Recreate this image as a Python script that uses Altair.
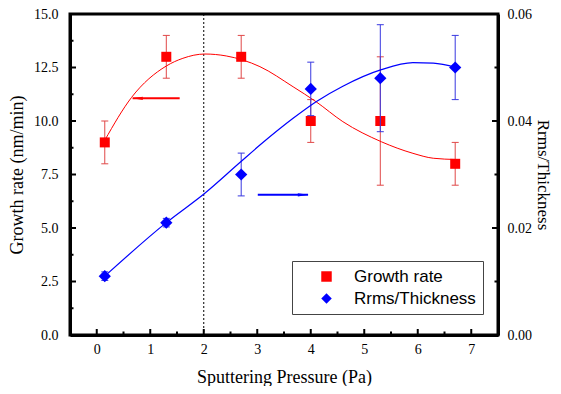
import altair as alt
import pandas as pd

# ---------------- data ----------------
series_names = ["Growth rate", "Rrms/Thickness"]

pressure = [0.15, 1.3, 2.7, 4.0, 5.3, 6.7]
growth = [9.0, 13.0, 13.0, 10.0, 10.0, 8.0]
growth_err = [1.0, 1.0, 1.0, 1.0, 3.0, 1.0]
rrms = [0.011, 0.021, 0.030, 0.046, 0.048, 0.050]
rrms_err = [0.0008, 0.0008, 0.004, 0.005, 0.010, 0.006]

fit_growth_x = [0.15, 0.65, 1.30, 1.61, 2.02, 2.42, 3.05, 3.67, 4.10, 4.60, 5.32, 5.91, 6.29, 6.72]
fit_growth_y = [9.1, 11.1, 12.57, 12.93, 13.13, 13.04, 12.54, 11.6, 10.9, 9.97, 9.03, 8.49, 8.26, 8.2]

fit_rrms_x = [0.15, 1.30, 2.02, 2.67, 3.05, 3.67, 4.10, 4.60, 5.32, 5.91, 6.29, 6.72]
fit_rrms_y = [0.0110, 0.0210, 0.0265, 0.0322, 0.0355, 0.0405, 0.0436, 0.0465, 0.0496, 0.0509, 0.0508, 0.0500]

marker_x = [2.0]

arrow_growth = {"x0": [1.55], "x1": [0.67], "y": [11.06]}
arrow_rrms = {"x0": [3.01], "x1": [3.95], "y": [0.0262]}

x_major = [0, 1, 2, 3, 4, 5, 6, 7]
x_minor = [0.5, 1.5, 2.5, 3.5, 4.5, 5.5, 6.5]
left_major = [0, 2.5, 5, 7.5, 10, 12.5, 15]
left_minor = [1.25, 3.75, 6.25, 8.75, 11.25, 13.75]
right_major = [0, 0.02, 0.04, 0.06]
right_minor = [0.01, 0.03, 0.05]

RED = "#FF0000"
BLUE = "#0000FF"
RED_ERR = "#E04848"
BLUE_ERR = "#3838E0"

W, H = 428, 321
MAJ, MIN = 6, 3.5

meas = pd.DataFrame({
    "p": pressure,
    "gr": growth,
    "gr_lo": [g - e for g, e in zip(growth, growth_err)],
    "gr_hi": [g + e for g, e in zip(growth, growth_err)],
    "rr": rrms,
    "rr_lo": [r - e for r, e in zip(rrms, rrms_err)],
    "rr_hi": [r + e for r, e in zip(rrms, rrms_err)],
    "s_gr": [series_names[0]] * len(pressure),
    "s_rr": [series_names[1]] * len(pressure),
})
fit_gr = pd.DataFrame({"p": fit_growth_x, "gr": fit_growth_y})
fit_rr = pd.DataFrame({"p": fit_rrms_x, "rr": fit_rrms_y})
vline = pd.DataFrame({"p": marker_x})
arr_gr = pd.DataFrame(arrow_growth)
arr_rr = pd.DataFrame(arrow_rrms)

# ---------------- encodings ----------------
x_axis = alt.Axis(
    values=x_major,
    labelExpr="format(datum.value, 'd')",
    ticks=False,
    labelPadding=7,
    titlePadding=12,
    title="Sputtering Pressure (Pa)",
)
x_scale = alt.Scale(domain=[-0.5, 7.5], nice=False, zero=False)


def X(field="p"):
    return alt.X(f"{field}:Q", scale=x_scale, axis=x_axis)


left_axis = alt.Axis(
    values=left_major,
    format=".1f",
    ticks=False,
    labelPadding=12,
    titlePadding=7,
    title="Growth rate (nm/min)",
)
left_scale = alt.Scale(domain=[0, 15], nice=False, zero=True)

right_axis = alt.Axis(
    orient="right",
    values=right_major,
    format=".2f",
    ticks=False,
    labelPadding=9,
    titlePadding=2,
    titleFontSize=17,
    titleAngle=90,
    title="Rrms/Thickness",
)
right_scale = alt.Scale(domain=[0, 0.06], nice=False, zero=True)


def YL(field="gr"):
    return alt.Y(f"{field}:Q", scale=left_scale, axis=left_axis)


def YR(field="rr"):
    return alt.Y(f"{field}:Q", scale=right_scale, axis=right_axis)


legend = alt.Legend(
    orient="none", legendX=222, legendY=247, title=None,
    strokeColor="#444444", fillColor="white", padding=7,
    symbolOffset=19, labelOffset=19, rowPadding=4,
    labelFont="Liberation Sans", labelFontSize=17, labelColor="black",
    symbolSize=110, symbolStrokeWidth=0,
)
color_enc = lambda f: alt.Color(f"{f}:N", scale=alt.Scale(domain=series_names, range=[RED, BLUE]), legend=legend)
shape_enc = lambda f: alt.Shape(f"{f}:N", scale=alt.Scale(domain=series_names, range=["square", "diamond"]), legend=legend)

# inward tick marks
xt_major = pd.DataFrame({"p": x_major})
xt_minor = pd.DataFrame({"p": x_minor})
lt_major = pd.DataFrame({"gr": left_major})
lt_minor = pd.DataFrame({"gr": left_minor})
rt_major = pd.DataFrame({"rr": right_major})
rt_minor = pd.DataFrame({"rr": right_minor})

tick_style = dict(color="black", strokeWidth=2)
xtick1 = alt.Chart(xt_major).mark_rule(**tick_style).encode(x=X(), y=alt.value(H), y2=alt.value(H - MAJ))
xtick2 = alt.Chart(xt_minor).mark_rule(**tick_style).encode(x=X(), y=alt.value(H), y2=alt.value(H - MIN))
ltick1 = alt.Chart(lt_major).mark_rule(**tick_style).encode(y=YL(), x=alt.value(0), x2=alt.value(MAJ))
ltick2 = alt.Chart(lt_minor).mark_rule(**tick_style).encode(y=YL(), x=alt.value(0), x2=alt.value(MIN))
rtick1 = alt.Chart(rt_major).mark_rule(**tick_style).encode(y=YR(), x=alt.value(W), x2=alt.value(W - MAJ))
rtick2 = alt.Chart(rt_minor).mark_rule(**tick_style).encode(y=YR(), x=alt.value(W), x2=alt.value(W - MIN))

# ---------------- left (growth rate) layers ----------------
dotted = alt.Chart(vline).mark_rule(color="black", strokeDash=[2, 2], strokeWidth=1).encode(x=X())
gr_err = alt.Chart(meas).mark_rule(color=RED_ERR, strokeWidth=1).encode(x=X(), y=YL("gr_lo"), y2="gr_hi")
gr_cap_lo = alt.Chart(meas).mark_tick(orient="horizontal", color=RED_ERR, size=7, thickness=1, opacity=1).encode(x=X(), y=YL("gr_lo"))
gr_cap_hi = alt.Chart(meas).mark_tick(orient="horizontal", color=RED_ERR, size=7, thickness=1, opacity=1).encode(x=X(), y=YL("gr_hi"))
gr_fit = alt.Chart(fit_gr).mark_line(color=RED, strokeWidth=1, interpolate="monotone").encode(x=X(), y=YL())
gr_pts = alt.Chart(meas).mark_point(filled=True, size=100, opacity=1).encode(
    x=X(), y=YL(), color=color_enc("s_gr"), shape=shape_enc("s_gr"))
gr_arrow = alt.Chart(arr_gr).mark_rule(color=RED, strokeWidth=2).encode(x=X("x0"), x2="x1", y=YL("y"))
gr_head = alt.Chart(arr_gr).mark_point(
    shape="M -1 0 L 1 -0.32 L 1 0.32 Z", filled=True, size=110, color=RED, opacity=1, xOffset=5
).encode(x=X("x1"), y=YL("y"))

left = alt.layer(xtick1, xtick2, ltick1, ltick2, dotted, gr_err, gr_cap_lo, gr_cap_hi,
                 gr_fit, gr_arrow, gr_head, gr_pts)

# ---------------- right (Rrms/Thickness) layers ----------------
rr_err = alt.Chart(meas).mark_rule(color=BLUE_ERR, strokeWidth=1).encode(x=X(), y=YR("rr_lo"), y2="rr_hi")
rr_cap_lo = alt.Chart(meas).mark_tick(orient="horizontal", color=BLUE_ERR, size=7, thickness=1, opacity=1).encode(x=X(), y=YR("rr_lo"))
rr_cap_hi = alt.Chart(meas).mark_tick(orient="horizontal", color=BLUE_ERR, size=7, thickness=1, opacity=1).encode(x=X(), y=YR("rr_hi"))
rr_fit = alt.Chart(fit_rr).mark_line(color=BLUE, strokeWidth=1.2, interpolate="monotone").encode(x=X(), y=YR())
rr_pts = alt.Chart(meas).mark_point(filled=True, size=150, opacity=1).encode(
    x=X(), y=YR(), color=color_enc("s_rr"), shape=shape_enc("s_rr"))
rr_arrow = alt.Chart(arr_rr).mark_rule(color=BLUE, strokeWidth=2).encode(x=X("x0"), x2="x1", y=YR("y"))
rr_head = alt.Chart(arr_rr).mark_point(
    shape="M 1 0 L -1 -0.32 L -1 0.32 Z", filled=True, size=110, color=BLUE, opacity=1, xOffset=-5
).encode(x=X("x1"), y=YR("y"))

right = alt.layer(rtick1, rtick2, rr_err, rr_cap_lo, rr_cap_hi, rr_fit, rr_arrow, rr_head, rr_pts)

chart = (
    alt.layer(left, right)
    .resolve_scale(y="independent")
    .properties(
        width=W, height=H,
        autosize=alt.AutoSizeParams(type="none"),
        padding={"left": 62, "top": 6, "right": 55, "bottom": 51},
        background="white",
    )
    .configure_view(stroke="black", strokeWidth=3)
    .configure_axis(
        grid=False,
        domainColor="black", domainWidth=3,
        labelFont="Liberation Serif", labelFontSize=14, labelColor="black",
        titleFont="Liberation Serif", titleFontSize=18, titleFontWeight="normal", titleColor="black",
    )
)

chart.save("out.html", embed_options={"renderer": "svg", "actions": False})
